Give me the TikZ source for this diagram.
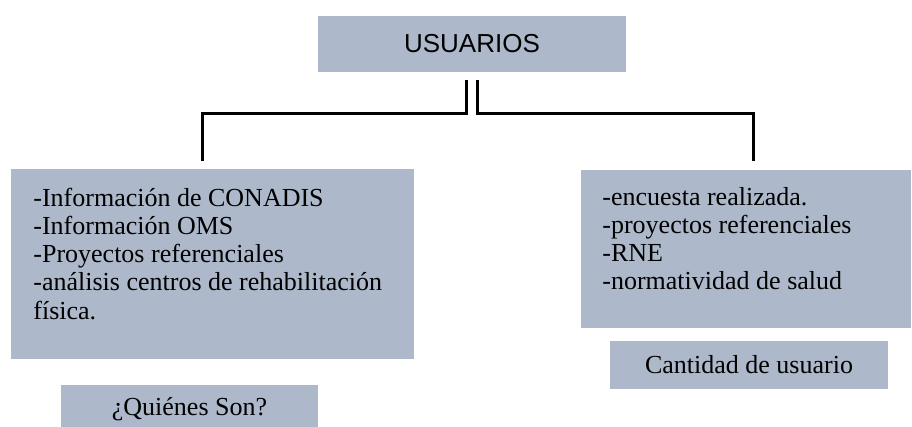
\documentclass[tikz,border=0pt]{standalone}
\usepackage{fontspec}
\setmainfont{Liberation Serif}
\setsansfont{Liberation Sans}
\usepackage{tikz}
\definecolor{usrfill}{HTML}{ADB9CA}
\tikzset{
  usr-head/.style={fill=usrfill, minimum width=154pt, minimum height=28pt, inner sep=0pt,
    font=\sffamily\fontsize{13pt}{15pt}\selectfont},
  usr-list/.style={fill=usrfill, anchor=north west, inner xsep=11pt, inner ysep=8.6pt,
    font=\fontsize{13pt}{14.1pt}\selectfont},
  usr-tag/.style={fill=usrfill, minimum height=24pt, inner sep=0pt,
    font=\fontsize{13pt}{15pt}\selectfont},
  usr-branch/.style={draw=black, line width=1.6pt}
}

\begin{document}
\begin{tikzpicture}[x=0.5pt, y=-0.5pt]
  \useasboundingbox (0,0) rectangle (912,427);

  % Root
  \node[usr-head] (usuarios) at (472,44) {USUARIOS};

  % Left branch
  \node[usr-list] (info) at (11,169) {\parbox[c][77.8pt][t]{179.5pt}{\raggedright\strut
    -Información de CONADIS\\
    -Información OMS\\
    -Proyectos referenciales\\
    -análisis centros de rehabilitación\\
    física.}};
  \node[usr-tag, minimum width=128.5pt] (quienes) at (189.5,409) {¿Quiénes Son?};

  % Right branch
  \node[usr-list, inner xsep=10.5pt, inner ysep=7.6pt] (fuentes) at (581,170) {\parbox[c][63.8pt][t]{144pt}{\raggedright\strut
    -encuesta realizada.\\
    -proyectos referenciales\\
    -RNE\\
    -normatividad de salud}};
  \node[usr-tag, minimum width=139pt] (cantidad) at (749,365) {Cantidad de usuario};

  % Connectors
  \draw[usr-branch] ([shift={(-5.5,8)}]usuarios.south) -- ++(0,33) -| ([shift={(-10.5,-8)}]info.north);
  \draw[usr-branch] ([shift={(5.5,8)}]usuarios.south) -- ++(0,33) -| ([shift={(7,-9)}]fuentes.north);
\end{tikzpicture}
\end{document}
